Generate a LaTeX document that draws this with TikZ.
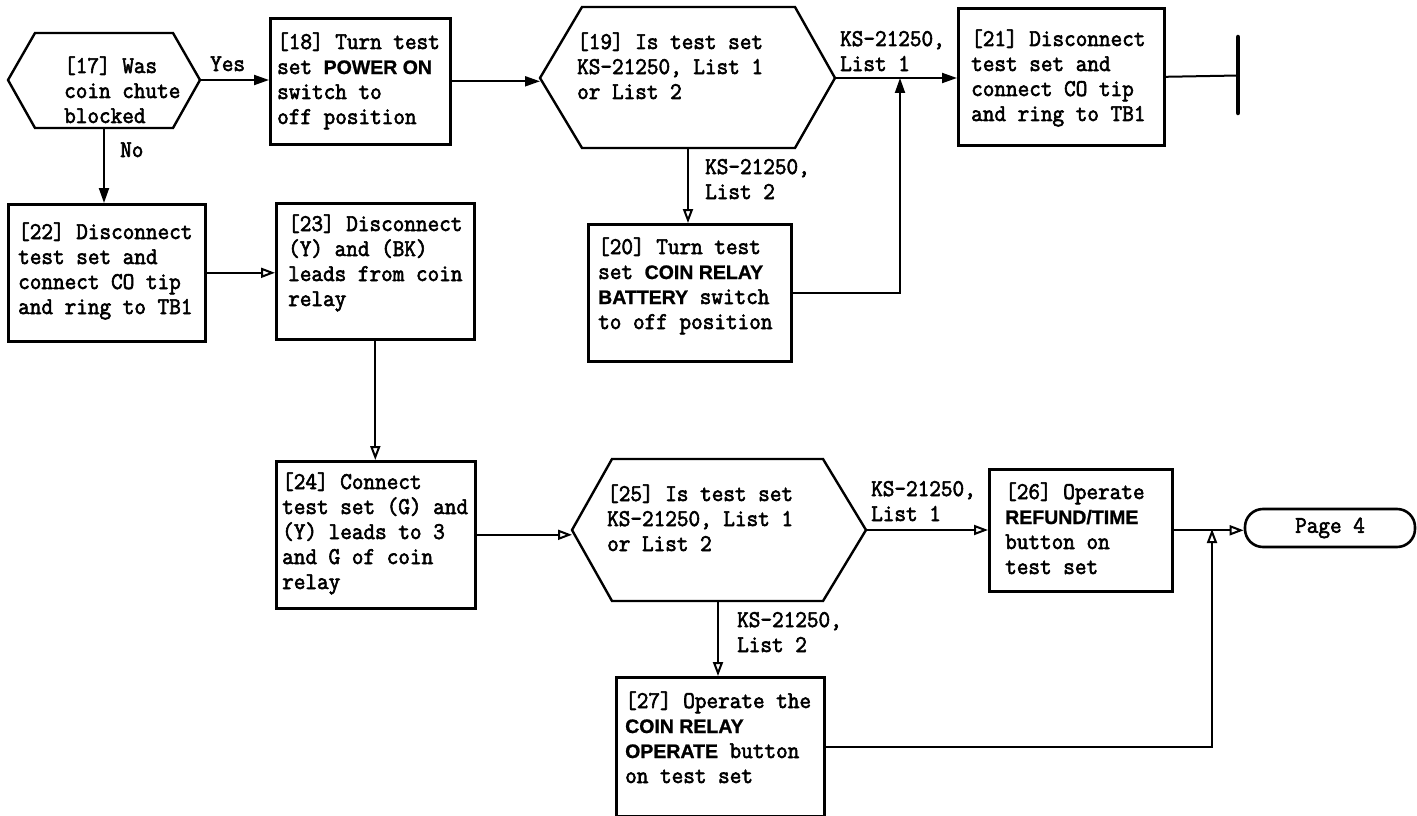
\documentclass[tikz,border=0pt]{standalone}
\usepackage{fontspec}
\newfontfamily\tw{Latin Modern Mono}[FakeBold=2.5,FakeStretch=0.94]
\newfontfamily\bsans{Liberation Sans}[BoldFeatures={FakeBold=1}]
\usetikzlibrary{arrows.meta}
\newcommand\kw[1]{{\fontsize{19.5}{25}\selectfont\bsans\bfseries #1}}
\newcommand\ptext[1]{\parbox[t]{230pt}{\raggedright #1}}
\begin{document}
\begin{tikzpicture}[x=1pt,y=-1pt,line join=miter,
  box/.style={draw,line width=2.6pt,inner sep=0,anchor=north west},
  hex/.style={draw,line width=2.4pt},
  txt/.style={inner sep=0,anchor=base west,font=\tw\fontsize{24}{25}\selectfont},
  con/.style={line width=2pt},
  fa/.style={con,-{Triangle[length=15pt,width=10pt]}},
  oa/.style={con,-{Triangle[open,length=14pt,width=10pt,line width=2pt,fill=white]}},
]
\useasboundingbox (0,0) rectangle (1417,816);

% ---------- shapes ----------
% hexagon 17
\coordinate (h17w) at (8,80);
\coordinate (h17e) at (200,80);
\coordinate (h17s) at (104,128);
\draw[hex] (h17w) -- (35,33) -- (173,33) -- (h17e) -- (173,128) -- (35,128) -- cycle;
\node[txt] (t17) at (64,73) {\ptext{[17] Was\\coin chute\\blocked}};

% box 18
\node[box,minimum width=180,minimum height=126] (b18) at (269,17) {};
\node[txt] (t18) at (277,49) {\ptext{[18] Turn test\\set \kw{POWER ON}\\switch to\\off position}};

% hexagon 19
\coordinate (h19w) at (540,78);
\coordinate (h19e) at (835,78);
\coordinate (h19s) at (688,148);
\draw[hex] (h19w) -- (582,7) -- (795,7) -- (h19e) -- (795,148) -- (582,148) -- cycle;
\node[txt] (t19) at (577,49) {\ptext{[19] Is test set\\KS-21250, List 1\\or List 2}};

% box 21
\node[box,minimum width=206,minimum height=137] (b21) at (957,7) {};
\node[txt] (t21) at (971,46) {\ptext{[21] Disconnect\\test set and\\connect CO tip\\and ring to TB1}};
\coordinate (bar) at (1238,75.5);
\draw[line width=4.5pt,line cap=round] (1238,37) -- (1238,113);

% box 22
\node[box,minimum width=197,minimum height=137] (b22) at (7,203) {};
\node[txt] (t22) at (18,239) {\ptext{[22] Disconnect\\test set and\\connect CO tip\\and ring to TB1}};

% box 23
\node[box,minimum width=198,minimum height=136] (b23) at (275,202) {};
\node[txt] (t23) at (288,231) {\ptext{[23] Disconnect\\(Y) and (BK)\\leads from coin\\relay}};

% box 20
\node[box,minimum width=203,minimum height=137] (b20) at (587,223) {};
\node[txt] (t20) at (598,254) {\ptext{[20] Turn test\\set \kw{COIN RELAY}\\\kw{BATTERY} switch\\to off position}};
\coordinate (j19) at (900,78);

% box 24
\node[box,minimum width=199,minimum height=147] (b24) at (275,460) {};
\node[txt] (t24) at (282,489) {\ptext{[24] Connect\\test set (G) and\\(Y) leads to 3\\and G of coin\\relay}};

% hexagon 25
\coordinate (h25w) at (572,530);
\coordinate (h25e) at (866,530);
\coordinate (h25s) at (718,601);
\draw[hex] (h25w) -- (612,459) -- (823,459) -- (h25e) -- (823,601) -- (612,601) -- cycle;
\node[txt] (t25) at (607,501) {\ptext{[25] Is test set\\KS-21250, List 1\\or List 2}};

% box 26
\node[box,minimum width=183,minimum height=122] (b26) at (988,468) {};
\node[txt] (t26) at (1005,499) {\ptext{[26] Operate\\\kw{REFUND/TIME}\\button on\\test set}};

% page 4 terminator
\node[draw,line width=2.6pt,rounded corners=18pt,minimum width=170,minimum height=38,inner sep=0,
      font=\tw\fontsize{24}{25}\selectfont] (p4) at (1330,528) {Page 4};
\coordinate (j25) at (1212,529);

% box 27
\node[box,minimum width=208,minimum height=139] (b27) at (615,676) {};
\node[txt] (t27) at (625,708) {\ptext{[27] Operate the\\\kw{COIN RELAY}\\\kw{OPERATE} button\\on test set}};

% ---------- connectors ----------
\draw[fa] (h17e) -- (h17e -| b18.west);
\node[txt] (lyes) at (210,71) {Yes};
\draw[fa] (h17s) -- (h17s |- b22.north);
\node[txt] (lno) at (120,157) {No};

\draw[fa] (b18.east) -- (b18.east -| h19w);
\draw[fa] (h19e) -- (h19e -| b21.west);
\node[txt] (l19a) at (840,46) {\ptext{KS-21250,\\List 1}};
\draw[con] (b21.east) -- (bar);

\draw[oa] (h19s) -- (h19s |- b20.north);
\node[txt] (l19b) at (705,174) {\ptext{KS-21250,\\List 2}};
\draw[fa] (b20.east) -| (j19);

\draw[oa] (b22.east) -- (b22.east -| b23.west);
\draw[oa] (b23.south) -- (b23.south |- b24.north);
\draw[oa] (b24.east) -- (b24.east -| h25w);

\draw[oa] (h25e) -- (h25e -| b26.west);
\node[txt] (l25a) at (871,496) {\ptext{KS-21250,\\List 1}};
\draw[oa] (b26.east) -- (b26.east -| p4.west);

\draw[oa] (h25s) -- (h25s |- b27.north);
\node[txt] (l25b) at (737,627) {\ptext{KS-21250,\\List 2}};
\draw[oa] (b27.east) -| (j25);
\end{tikzpicture}
\end{document}
